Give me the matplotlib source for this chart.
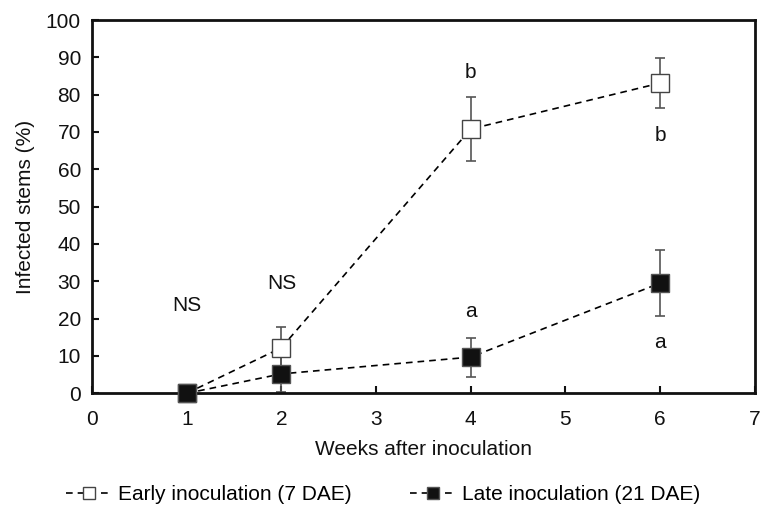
import matplotlib
matplotlib.use("Agg")
import matplotlib.pyplot as plt

plt.rcParams['font.family'] = ['Liberation Sans', 'DejaVu Sans']

weeks = [1, 2, 4, 6]
early = [0, 12.2, 70.8, 83.1]
early_err = [0, 5.5, 8.5, 6.6]
late = [0, 5.2, 9.7, 29.5]
late_err = [0, 4.8, 5.2, 8.8]

labels_text = ["NS", "NS", "b", "b", "a", "a"]
labels_x = [1.0, 2.0, 4.0, 6.0, 4.0, 6.0]
labels_y = [23.5, 29.5, 86.0, 69.0, 22.0, 13.5]

FS = 15

fig = plt.figure(figsize=(7.67, 5.09), dpi=100)
ax = fig.add_axes([0.12, 0.2273, 0.864, 0.7334])

ax.errorbar(weeks, early, yerr=early_err, fmt='none', ecolor='#555555',
            elinewidth=1.2, capsize=3.5, capthick=1.2, zorder=2)
ax.errorbar(weeks, late, yerr=late_err, fmt='none', ecolor='#555555',
            elinewidth=1.2, capsize=3.5, capthick=1.2, zorder=2)
ax.plot(weeks, early, linestyle=(0, (4, 3)), color='black', linewidth=1.2,
        marker='s', markersize=13, markerfacecolor='white',
        markeredgecolor='#444444', markeredgewidth=1.0,
        label='Early inoculation (7 DAE)', zorder=3, clip_on=False)
ax.plot(weeks, late, linestyle=(0, (4, 3)), color='black', linewidth=1.2,
        marker='s', markersize=13, markerfacecolor='#111111',
        markeredgecolor='#555555', markeredgewidth=1.0,
        label='Late inoculation (21 DAE)', zorder=4, clip_on=False)

for t, x, y in zip(labels_text, labels_x, labels_y):
    ax.text(x, y, t, ha='center', va='center', fontsize=FS, color='#111111')

ax.set_xlim(0, 7)
ax.set_ylim(0, 100)
ax.set_xticks(range(0, 8))
ax.set_yticks(range(0, 101, 10))
ax.tick_params(direction='in', length=5, width=1.5, labelsize=FS,
               colors='#111111', top=False, right=False)
ax.tick_params(axis='x', pad=12)
ax.tick_params(axis='y', pad=8)
for s in ax.spines.values():
    s.set_linewidth(2.0)
    s.set_color('#111111')

ax.set_xlabel('Weeks after inoculation', fontsize=FS, labelpad=8, color='#111111')
ax.set_ylabel('Infected stems (%)', fontsize=FS, labelpad=8, color='#111111')

fig.legend(loc='center', bbox_to_anchor=(0.5, 0.028), ncol=2, frameon=False,
           fontsize=FS, handlelength=2.2, handletextpad=0.3, columnspacing=2.8,
           markerscale=0.7)

fig.savefig('out.png', dpi=100)
